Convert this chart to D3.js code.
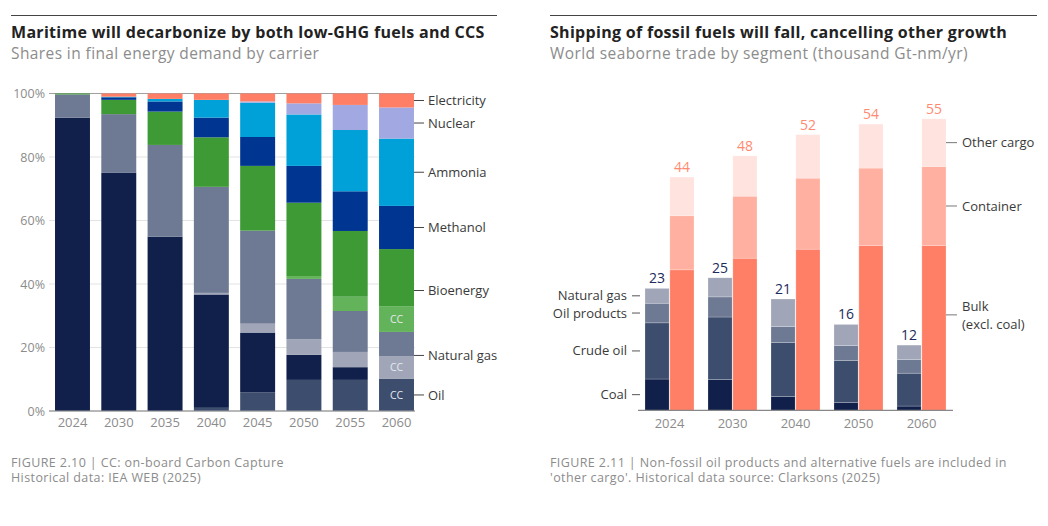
<!DOCTYPE html>
<html>
<head>
<meta charset="utf-8">
<script src="https://cdn.jsdelivr.net/npm/d3@7"></script>
<style>
  body { margin: 0; background: #fff; }
  svg { font-family: "Open Sans", Lato, sans-serif; display: block; }
</style>
</head>
<body>
<div id="chart"></div>
<script>
// ---- data: left chart (shares in final energy demand, %) ----
var years1 = ["2024", "2030", "2035", "2040", "2045", "2050", "2055", "2060"];
var carriers = ["Oil CC", "Oil", "Natural gas CC", "Natural gas", "Bioenergy CC", "Bioenergy",
  "Methanol", "Ammonia", "Nuclear", "Electricity"];
var oilCC = [0, 0, 0, 1.0, 5.9, 9.8, 9.8, 10.1];
var oil = [92.4, 75.0, 54.9, 35.7, 18.8, 7.9, 4.0, 0];
var gasCC = [0, 0, 0, 0.5, 2.8, 4.9, 4.8, 7.2];
var gas = [7.3, 18.5, 28.9, 33.4, 29.3, 19.0, 12.9, 7.6];
var bioCC = [0, 0, 0, 0, 0, 0.9, 4.5, 8.0];
var bio = [0.3, 4.5, 10.5, 15.6, 20.4, 23.1, 20.7, 18.1];
var methanol = [0, 0.8, 3.2, 6.2, 9.1, 11.6, 12.5, 13.6];
var ammonia = [0, 0.2, 0.8, 5.6, 10.8, 16.2, 19.3, 21.2];
var nuclear = [0, 0, 0, 0, 0.4, 3.5, 7.9, 9.8];
var electricity = [0, 1.0, 1.7, 2.0, 2.5, 3.1, 3.6, 4.4];
var yTicks1 = [0, 20, 40, 60, 80, 100];

// ---- data: right chart (thousand Gt-nm/yr) ----
var years2 = ["2024", "2030", "2040", "2050", "2060"];
var fossilKeys = ["Coal", "Crude oil", "Oil products", "Natural gas"];
var coal = [5.9, 5.8, 2.6, 1.5, 0.8];
var crude = [10.6, 11.8, 10.2, 7.9, 6.2];
var oilProducts = [3.7, 3.8, 3.0, 2.8, 2.6];
var natGas = [2.8, 3.6, 5.2, 4.0, 2.7];
var otherKeys = ["Bulk", "Container", "Other cargo"];
var bulk = [26.5, 28.7, 30.4, 31.1, 31.1];
var container = [10.2, 11.7, 13.4, 14.6, 14.9];
var otherCargo = [7.3, 7.6, 8.2, 8.3, 9.0];

var W = 1048, H = 526;
var FONT = "'Open Sans', Lato, sans-serif";
var svg = d3.select("#chart").append("svg").attr("width", W).attr("height", H);

function header(x0, x1, title, sub) {
  svg.append("line").attr("x1", x0).attr("x2", x1).attr("y1", 15.5).attr("y2", 15.5)
    .attr("stroke", "#444").attr("stroke-width", 1.2);
  svg.append("text").attr("x", x0).attr("y", 38).attr("font-size", 16)
    .attr("font-weight", 700).attr("letter-spacing", 0.3).attr("fill", "#222").text(title);
  svg.append("text").attr("x", x0).attr("y", 59).attr("font-size", 15.5)
    .attr("letter-spacing", 0.4).attr("fill", "#8c8c8c").text(sub);
}
function footer(x0, lines) {
  lines.forEach(function (t, i) {
    svg.append("text").attr("x", x0).attr("y", 467 + i * 15).attr("font-size", 12.5)
      .attr("letter-spacing", 0.4).attr("fill", "#8c8c8c").text(t);
  });
}

header(11, 497, "Maritime will decarbonize by both low-GHG fuels and CCS", "Shares in final energy demand by carrier");
header(550, 1037, "Shipping of fossil fuels will fall, cancelling other growth", "World seaborne trade by segment (thousand Gt-nm/yr)");
footer(11, ["FIGURE 2.10 | CC: on-board Carbon Capture", "Historical data: IEA WEB (2025)"]);
footer(550, ["FIGURE 2.11 | Non-fossil oil products and alternative fuels are included in",
  "'other cargo'. Historical data source: Clarksons (2025)"]);

// ================= left chart =================
var series1 = [oilCC, oil, gasCC, gas, bioCC, bio, methanol, ammonia, nuclear, electricity];
var colors1 = ["#3d4d6e", "#10204a", "#a0a6b8", "#6e7a94", "#63b35a", "#3e9a35",
  "#003591", "#00a0d8", "#a2a8e2", "#ff7f66"];
var rows1 = years1.map(function (y, i) {
  var r = { year: y };
  carriers.forEach(function (c, k) { r[c] = series1[k][i]; });
  return r;
});
var stack1 = d3.stack().keys(carriers)(rows1);

var x1 = d3.scaleBand().domain(years1).range([49, 420]).paddingInner(0.245).paddingOuter(0.13);
var y1 = d3.scaleLinear().domain([0, 100]).range([411, 93.5]);
var color1 = d3.scaleOrdinal().domain(carriers).range(colors1);
var last = years1.length - 1;
var xEnd1 = x1(years1[last]) + x1.bandwidth();

var g1 = svg.append("g");
g1.append("g").selectAll("line").data(yTicks1).enter().append("line")
  .attr("x1", 49).attr("x2", xEnd1 + 1)
  .attr("y1", d => y1(d)).attr("y2", d => y1(d))
  .attr("stroke", d => (d === 0 || d === 100) ? "#a0a0a0" : "#e3e3e3")
  .attr("stroke-width", d => (d === 0 || d === 100) ? 1.2 : 1);

g1.append("g").selectAll("g").data(stack1).enter().append("g")
  .attr("fill", d => color1(d.key))
  .selectAll("rect").data(d => d).enter().append("rect")
  .attr("x", d => x1(d.data.year))
  .attr("width", x1.bandwidth())
  .attr("y", d => y1(d[1]))
  .attr("height", d => y1(d[0]) - y1(d[1]));

// redraw baseline on top
g1.append("line").attr("x1", 49).attr("x2", xEnd1 + 1).attr("y1", y1(0)).attr("y2", y1(0))
  .attr("stroke", "#a0a0a0").attr("stroke-width", 1.2);

var yAxis1 = g1.append("g").attr("transform", "translate(49,0)")
  .call(d3.axisLeft(y1).tickValues(yTicks1).tickFormat(d => d + "%").tickSize(0).tickPadding(4));
yAxis1.select(".domain").remove();
yAxis1.selectAll("text").attr("font-size", 12.5).attr("fill", "#8c8c8c").style("font-family", FONT);

var xAxis1 = g1.append("g").attr("transform", "translate(0,411)")
  .call(d3.axisBottom(x1).tickSize(0).tickPadding(7));
xAxis1.select(".domain").remove();
xAxis1.selectAll("text").attr("font-size", 13).attr("fill", "#8c8c8c").style("font-family", FONT);

// CC labels in the last bar
stack1.filter(s => /CC$/.test(s.key)).forEach(function (s) {
  var d = s[last];
  if (d[1] - d[0] < 3) return;
  g1.append("text").attr("x", x1(years1[last]) + x1.bandwidth() / 2)
    .attr("y", y1((d[0] + d[1]) / 2)).attr("dy", "0.35em")
    .attr("text-anchor", "middle").attr("font-size", 10.5).attr("fill", "#e6e9ef").text("CC");
});

// right-hand carrier labels
var labelGroups = [
  { name: "Oil", keys: ["Oil CC", "Oil"] },
  { name: "Natural gas", keys: ["Natural gas CC", "Natural gas"] },
  { name: "Bioenergy", keys: ["Bioenergy CC", "Bioenergy"] },
  { name: "Methanol", keys: ["Methanol"] },
  { name: "Ammonia", keys: ["Ammonia"] },
  { name: "Nuclear", keys: ["Nuclear"] },
  { name: "Electricity", keys: ["Electricity"] }
];
labelGroups.forEach(function (lg) {
  var lo = stack1.find(s => s.key === lg.keys[0])[last][0];
  var hi = stack1.find(s => s.key === lg.keys[lg.keys.length - 1])[last][1];
  var yy = y1((lo + hi) / 2);
  g1.append("line").attr("x1", xEnd1).attr("x2", xEnd1 + 10).attr("y1", yy).attr("y2", yy)
    .attr("stroke", "#444").attr("stroke-width", 1);
  g1.append("text").attr("x", xEnd1 + 14).attr("y", yy).attr("dy", "0.35em")
    .attr("font-size", 13).attr("fill", "#3a3a3a").text(lg.name);
});

// ================= right chart =================
var rows2 = years2.map(function (y, i) {
  return { year: y, "Coal": coal[i], "Crude oil": crude[i], "Oil products": oilProducts[i],
    "Natural gas": natGas[i], "Bulk": bulk[i], "Container": container[i], "Other cargo": otherCargo[i] };
});
var stackF = d3.stack().keys(fossilKeys)(rows2);
var stackO = d3.stack().keys(otherKeys)(rows2);

var x2 = d3.scaleBand().domain(years2).range([638, 953]).paddingInner(0.222).paddingOuter(0.111);
var xs = d3.scaleBand().domain(["fossil", "other"]).range([0, x2.bandwidth()]).paddingInner(0.03);
var y2 = d3.scaleLinear().domain([0, 60]).range([410.3, 92.3]);
var colorF = d3.scaleOrdinal().domain(fossilKeys).range(["#10204a", "#3d4d6e", "#6e7a94", "#a0a6b8"]);
var colorO = d3.scaleOrdinal().domain(otherKeys).range(["#ff7f66", "#ffb0a0", "#ffe3de"]);

var g2 = svg.append("g");
function drawStack(st, col, part) {
  g2.append("g").selectAll("g").data(st).enter().append("g")
    .attr("fill", d => col(d.key))
    .selectAll("rect").data(d => d).enter().append("rect")
    .attr("x", d => x2(d.data.year) + xs(part))
    .attr("width", xs.bandwidth())
    .attr("y", d => y2(d[1]))
    .attr("height", d => y2(d[0]) - y2(d[1]))
    .attr("stroke", "#fff").attr("stroke-opacity", 0.35).attr("stroke-width", 0.6);
}
drawStack(stackF, colorF, "fossil");
drawStack(stackO, colorO, "other");

g2.append("line").attr("x1", 638).attr("x2", 953).attr("y1", y2(0)).attr("y2", y2(0))
  .attr("stroke", "#888").attr("stroke-width", 1.2);

var xAxis2 = g2.append("g").attr("transform", "translate(0," + y2(0) + ")")
  .call(d3.axisBottom(x2).tickSize(0).tickPadding(8));
xAxis2.select(".domain").remove();
xAxis2.selectAll("text").attr("font-size", 13).attr("fill", "#8c8c8c").style("font-family", FONT);

// totals above bars
var topF = stackF[stackF.length - 1], topO = stackO[stackO.length - 1];
g2.selectAll(".tf").data(topF).enter().append("text")
  .attr("x", d => x2(d.data.year) + xs("fossil") + xs.bandwidth() / 2)
  .attr("y", d => y2(d[1]) - 5).attr("text-anchor", "middle")
  .attr("font-size", 14).attr("fill", "#1b2b5b").text(d => Math.round(d[1]));
g2.selectAll(".to").data(topO).enter().append("text")
  .attr("x", d => x2(d.data.year) + xs("other") + xs.bandwidth() / 2)
  .attr("y", d => y2(d[1]) - 5).attr("text-anchor", "middle")
  .attr("font-size", 14).attr("fill", "#ff8a70").text(d => Math.round(d[1]));

// left segment labels (first year)
var xF0 = x2(years2[0]) + xs("fossil");
stackF.forEach(function (s) {
  var yy = y2((s[0][0] + s[0][1]) / 2);
  g2.append("line").attr("x1", xF0 - 13).attr("x2", xF0 - 5).attr("y1", yy).attr("y2", yy)
    .attr("stroke", "#555").attr("stroke-width", 1);
  g2.append("text").attr("x", xF0 - 18).attr("y", yy).attr("dy", "0.35em")
    .attr("text-anchor", "end").attr("font-size", 13).attr("fill", "#3a3a3a").text(s.key);
});

// right segment labels (last year)
var li = years2.length - 1;
var xO1 = x2(years2[li]) + xs("other") + xs.bandwidth();
stackO.forEach(function (s) {
  var yy = y2((s[li][0] + s[li][1]) / 2);
  if (s.key === "Bulk") yy -= 13;
  g2.append("line").attr("x1", xO1).attr("x2", xO1 + 11).attr("y1", yy).attr("y2", yy)
    .attr("stroke", "#777").attr("stroke-width", 1);
  var t = g2.append("text").attr("x", xO1 + 16).attr("font-size", 13).attr("fill", "#3a3a3a");
  if (s.key === "Bulk") {
    t.append("tspan").attr("x", xO1 + 16).attr("y", yy - 8).attr("dy", "0.35em").text("Bulk");
    t.append("tspan").attr("x", xO1 + 16).attr("y", yy + 10).attr("dy", "0.35em").text("(excl. coal)");
  } else {
    t.attr("y", yy).attr("dy", "0.35em").text(s.key);
  }
});
</script>
</body>
</html>
